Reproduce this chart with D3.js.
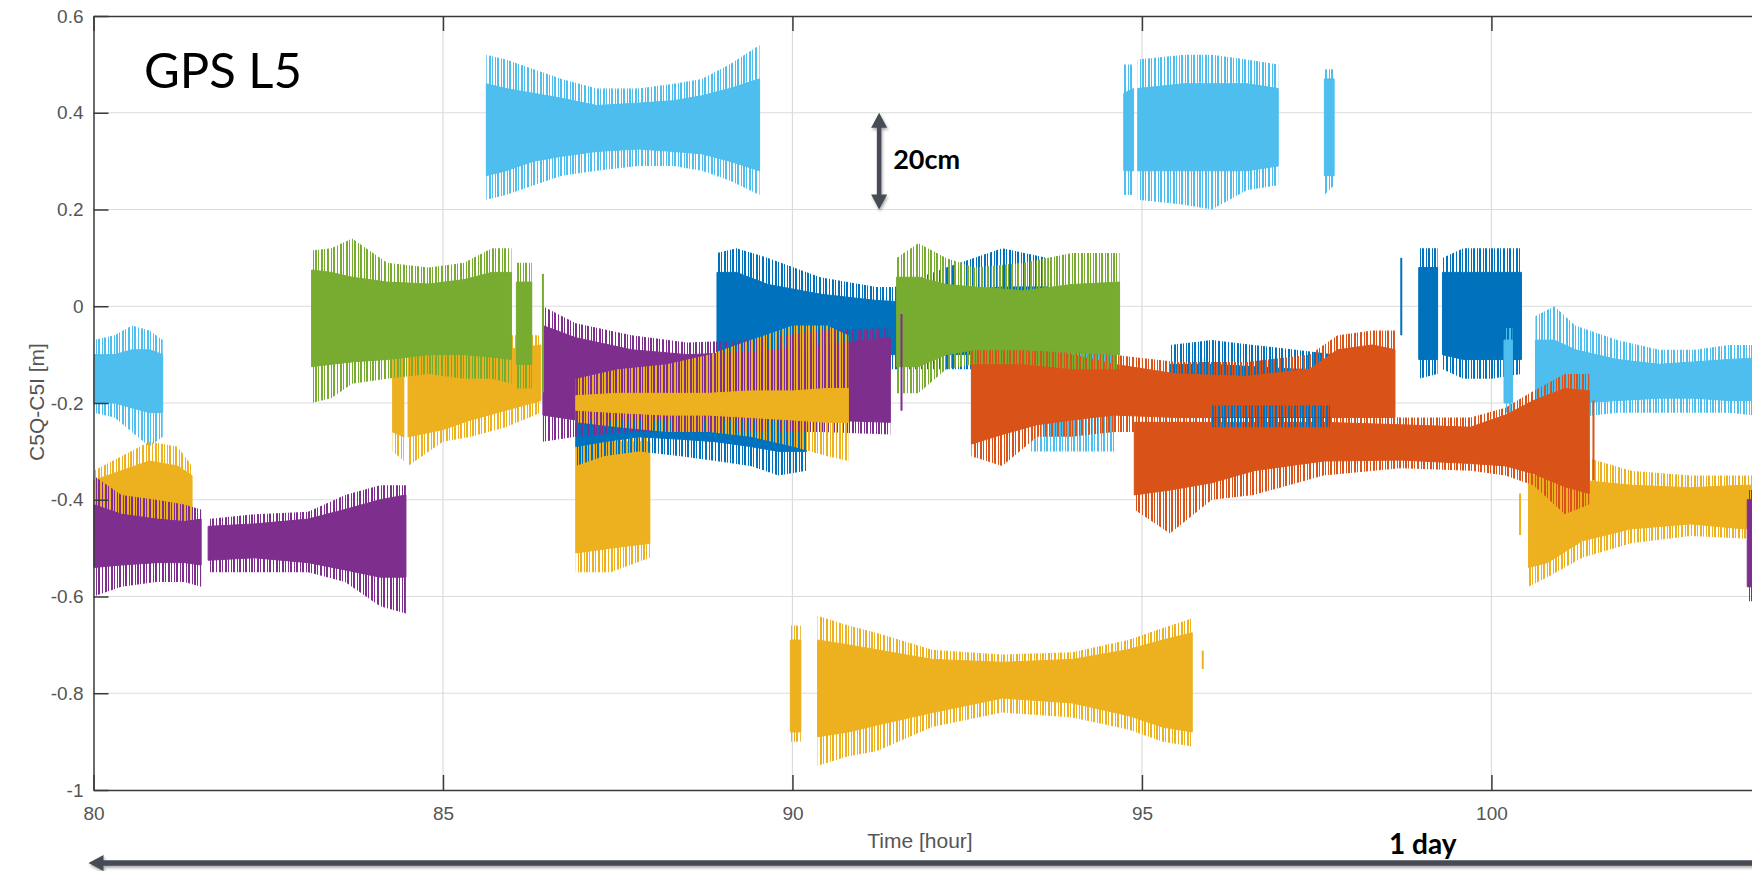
<!DOCTYPE html>
<html><head><meta charset="utf-8">
<script src="https://cdn.jsdelivr.net/npm/d3@7"></script>
<style>html,body{margin:0;padding:0;background:#fff;overflow:hidden}</style>
</head><body><svg id="c" width="1752" height="871"></svg>
<script>
// ---- axis ticks ----
const xTicks = [80, 85, 90, 95, 100];
const yTicks = [-1, -0.8, -0.6, -0.4, -0.2, 0, 0.2, 0.4, 0.6];
const yTickLabels = ["-1", "-0.8", "-0.6", "-0.4", "-0.2", "0", "0.2", "0.4", "0.6"];

// ---- series segments: [hour, spikeLow, coreLow, coreHigh, spikeHigh] (m) ----
// light blue
const lb1 = [[80.00,-0.22,-0.20,-0.10,-0.07],[80.30,-0.23,-0.20,-0.10,-0.06],[80.55,-0.26,-0.21,-0.09,-0.04],[80.80,-0.29,-0.22,-0.09,-0.05],[80.99,-0.27,-0.22,-0.10,-0.07]];
const lb2 = [[85.62,0.22,0.27,0.46,0.52],[85.9,0.23,0.28,0.45,0.51],[86.3,0.25,0.30,0.44,0.49],[86.7,0.27,0.31,0.43,0.47],[87.2,0.28,0.32,0.415,0.45],[87.8,0.29,0.325,0.42,0.45],[88.3,0.29,0.32,0.425,0.46],[88.7,0.28,0.315,0.435,0.47],[89.1,0.26,0.30,0.45,0.50],[89.53,0.23,0.28,0.47,0.54]];
const lb3a = [[94.74,0.23,0.28,0.44,0.50],[94.88,0.23,0.28,0.45,0.50]];
const lb3b = [[94.94,0.22,0.28,0.45,0.51],[95.6,0.21,0.28,0.46,0.52],[96.0,0.20,0.28,0.46,0.52],[96.5,0.24,0.28,0.46,0.51],[96.95,0.25,0.29,0.45,0.50]];
const lb4 = [[97.61,0.23,0.27,0.47,0.49],[97.75,0.25,0.27,0.47,0.49]];
const lbx = [[93.4,-0.30,-0.22,-0.10,-0.08],[94.6,-0.30,-0.22,-0.10,-0.08]];
const lb5a = [[100.18,-0.22,-0.20,-0.07,-0.045],[100.30,-0.22,-0.20,-0.07,-0.045]];
const lb5 = [[100.63,-0.25,-0.21,-0.07,-0.02],[100.9,-0.24,-0.20,-0.07,0.0],[101.2,-0.23,-0.20,-0.09,-0.04],[101.8,-0.22,-0.195,-0.11,-0.07],[102.4,-0.22,-0.19,-0.12,-0.09],[102.9,-0.22,-0.19,-0.115,-0.09],[103.4,-0.22,-0.195,-0.11,-0.08],[104.0,-0.23,-0.195,-0.105,-0.08]];
// yellow
const ye1 = [[80.0,-0.50,-0.47,-0.36,-0.34],[80.4,-0.50,-0.47,-0.34,-0.31],[80.8,-0.52,-0.47,-0.32,-0.28],[81.2,-0.52,-0.47,-0.33,-0.29],[81.41,-0.50,-0.47,-0.35,-0.33]];
const ye2a = [[84.28,-0.30,-0.26,-0.10,-0.08],[84.44,-0.32,-0.27,-0.10,-0.08]];
const ye2b = [[84.50,-0.33,-0.27,-0.10,-0.07],[85.0,-0.28,-0.255,-0.10,-0.07],[85.4,-0.27,-0.235,-0.10,-0.07],[85.9,-0.25,-0.215,-0.09,-0.06],[86.4,-0.22,-0.195,-0.08,-0.06]];
const ye3 = [[86.9,-0.55,-0.51,-0.28,-0.26],[87.4,-0.55,-0.50,-0.28,-0.26],[87.96,-0.52,-0.49,-0.28,-0.26]];
const ye4 = [[86.9,-0.24,-0.215,-0.185,-0.15],[87.5,-0.25,-0.22,-0.18,-0.13],[88.2,-0.26,-0.225,-0.18,-0.12],[88.8,-0.26,-0.225,-0.18,-0.10],[89.4,-0.27,-0.23,-0.175,-0.07],[90.0,-0.29,-0.235,-0.175,-0.04],[90.5,-0.31,-0.24,-0.17,-0.04],[90.8,-0.32,-0.24,-0.17,-0.06]];
const ye5a = [[89.97,-0.90,-0.88,-0.69,-0.66],[90.12,-0.90,-0.88,-0.69,-0.66]];
const ye5b = [[90.36,-0.95,-0.89,-0.69,-0.64],[90.8,-0.93,-0.88,-0.70,-0.66],[91.2,-0.92,-0.866,-0.71,-0.675],[92.0,-0.87,-0.84,-0.73,-0.71],[93.0,-0.84,-0.81,-0.736,-0.72],[94.0,-0.85,-0.82,-0.73,-0.715],[94.8,-0.875,-0.846,-0.71,-0.69],[95.3,-0.90,-0.87,-0.69,-0.665],[95.72,-0.91,-0.88,-0.675,-0.645]];
const ye6 = [[100.53,-0.58,-0.54,-0.35,-0.33],[100.8,-0.56,-0.53,-0.35,-0.32],[101.3,-0.52,-0.485,-0.36,-0.31],[102.0,-0.49,-0.46,-0.37,-0.34],[102.85,-0.475,-0.45,-0.375,-0.35],[103.6,-0.48,-0.46,-0.37,-0.35],[104.0,-0.48,-0.46,-0.37,-0.35]];
// blue
const blA = [[86.9,-0.33,-0.29,-0.19,-0.17],[87.3,-0.31,-0.28,-0.19,-0.17],[87.8,-0.30,-0.27,-0.19,-0.17],[88.4,-0.31,-0.275,-0.19,-0.17],[88.9,-0.32,-0.28,-0.19,-0.16],[89.4,-0.33,-0.29,-0.19,-0.16],[89.8,-0.35,-0.30,-0.19,-0.16],[90.2,-0.34,-0.30,-0.19,-0.16]];
const blB = [[88.92,-0.13,-0.10,0.07,0.11],[89.2,-0.13,-0.10,0.07,0.12],[89.65,-0.13,-0.10,0.045,0.10],[90.4,-0.13,-0.10,0.025,0.06],[91.2,-0.13,-0.10,0.012,0.04],[91.46,-0.13,-0.10,0.01,0.04],[92.2,-0.13,-0.10,0.03,0.08],[93.0,-0.13,-0.10,0.04,0.12],[93.65,-0.13,-0.10,0.04,0.10]];
const blC = [[95.4,-0.20,-0.17,-0.12,-0.08],[96.0,-0.20,-0.17,-0.12,-0.07],[96.6,-0.20,-0.17,-0.125,-0.08],[97.2,-0.20,-0.17,-0.13,-0.09],[97.8,-0.20,-0.17,-0.13,-0.10],[98.3,-0.20,-0.17,-0.14,-0.10]];
const blD1 = [[98.96,-0.15,-0.11,0.08,0.12],[99.23,-0.14,-0.11,0.08,0.12]];
const blD2 = [[99.30,-0.13,-0.10,0.07,0.10],[99.6,-0.15,-0.11,0.07,0.12],[100.0,-0.15,-0.11,0.07,0.12],[100.43,-0.14,-0.11,0.07,0.12]];
const blE = [[96.0,-0.25,-0.23,-0.23,-0.205],[97.7,-0.25,-0.23,-0.23,-0.205]];
// purple
const pu1a = [[80.0,-0.60,-0.54,-0.41,-0.35],[80.4,-0.58,-0.535,-0.43,-0.39],[80.9,-0.57,-0.53,-0.44,-0.40],[81.3,-0.57,-0.53,-0.445,-0.41],[81.54,-0.58,-0.535,-0.44,-0.42]];
const pu1b = [[81.64,-0.55,-0.525,-0.455,-0.44],[82.3,-0.55,-0.52,-0.45,-0.43],[83.07,-0.55,-0.53,-0.44,-0.425],[83.6,-0.57,-0.545,-0.42,-0.39],[84.1,-0.62,-0.56,-0.40,-0.37],[84.47,-0.635,-0.56,-0.39,-0.37]];
const pu2 = [[86.43,-0.28,-0.225,-0.04,0.0],[86.9,-0.27,-0.235,-0.065,-0.035],[87.7,-0.26,-0.235,-0.09,-0.06],[88.5,-0.26,-0.235,-0.10,-0.075],[89.4,-0.26,-0.235,-0.095,-0.07],[90.4,-0.26,-0.235,-0.08,-0.05],[91.4,-0.265,-0.24,-0.065,-0.045]];
const pu3 = [[103.66,-0.61,-0.58,-0.40,-0.38],[104.0,-0.61,-0.58,-0.40,-0.38]];
// orange
const orA = [[92.56,-0.31,-0.285,-0.08,-0.07],[93.0,-0.33,-0.265,-0.085,-0.07],[93.5,-0.27,-0.245,-0.09,-0.075],[94.0,-0.27,-0.235,-0.10,-0.085],[94.6,-0.26,-0.225,-0.12,-0.10],[95.5,-0.26,-0.23,-0.14,-0.115],[96.5,-0.26,-0.23,-0.145,-0.115],[97.4,-0.26,-0.23,-0.13,-0.10],[97.8,-0.26,-0.23,-0.09,-0.06],[98.3,-0.26,-0.23,-0.08,-0.05],[98.62,-0.26,-0.23,-0.09,-0.05]];
const orB = [[94.89,-0.42,-0.39,-0.24,-0.22],[95.4,-0.47,-0.38,-0.24,-0.22],[96.0,-0.40,-0.365,-0.24,-0.22],[96.6,-0.39,-0.34,-0.24,-0.22],[97.6,-0.35,-0.32,-0.24,-0.22],[98.7,-0.335,-0.318,-0.245,-0.23],[99.7,-0.34,-0.325,-0.25,-0.23],[100.2,-0.35,-0.33,-0.225,-0.21],[100.6,-0.37,-0.346,-0.195,-0.175],[101.05,-0.43,-0.373,-0.17,-0.14],[101.4,-0.41,-0.387,-0.175,-0.14]];
// green
const gr1a = [[83.12,-0.20,-0.125,0.075,0.115],[83.4,-0.19,-0.12,0.07,0.12],[83.7,-0.16,-0.115,0.06,0.14],[84.2,-0.15,-0.11,0.05,0.09],[84.8,-0.14,-0.10,0.046,0.08],[85.3,-0.15,-0.10,0.055,0.09],[85.7,-0.15,-0.105,0.07,0.12],[85.98,-0.16,-0.11,0.07,0.12]];
const gr1b = [[86.05,-0.17,-0.12,0.05,0.09],[86.27,-0.17,-0.12,0.05,0.09]];
const gr2 = [[91.49,-0.18,-0.125,0.06,0.10],[91.8,-0.18,-0.125,0.06,0.13],[92.2,-0.13,-0.10,0.045,0.10],[92.6,-0.12,-0.09,0.04,0.08],[93.3,-0.12,-0.09,0.032,0.09],[94.0,-0.13,-0.095,0.045,0.11],[94.68,-0.13,-0.10,0.05,0.11]];
// isolated single spikes: [hour, low, high]
const spikesGreen = [[86.43,-0.178,0.067]];
const spikesPurple = [[91.56,-0.216,-0.016]];
const spikesOrange = [[101.46,-0.36,-0.195]];
const spikesYellow = [[95.87,-0.75,-0.712],[100.41,-0.473,-0.387]];
const spikesBlue = [[98.71,-0.06,0.10]];

// ---- drawing ----
const COLORS = {lb:'#4DBEEE', bl:'#0072BD', ye:'#EDB120', pu:'#7E2F8E', gr:'#77AC30', or:'#D95319'};
const layers = [
  ['lb',[lb1,lb2,lb3a,lb3b,lb4,lbx,lb5]],
  ['ye',[ye1,ye3,ye5a,ye5b,ye6]],
  ['bl',[blA,blB,blC,blD1,blD2]],
  ['lb',[lb5a]],
  ['pu',[pu1a,pu1b,pu2,pu3]],
  ['ye',[ye2a,ye2b,ye4]],
  ['or',[orA,orB]],
  ['bl',[blE]],
  ['gr',[gr1a,gr1b,gr2]]
];
const spikeLayers = [['gr',spikesGreen],['pu',spikesPurple],['or',spikesOrange],['ye',spikesYellow],['bl',spikesBlue]];

const W = 1752, H = 871;
const L = 93.5, T = 16, B = 790, R = 1771;
const x = d3.scaleLinear().domain([80,104]).range([L,R]);
const y = d3.scaleLinear().domain([-1,0.6]).range([B,T]);
const svg = d3.select('#c');
svg.append('rect').attr('width',W).attr('height',H).attr('fill','#fff');

const defs = svg.append('defs');
defs.append('clipPath').attr('id','plot').append('rect').attr('x',L).attr('y',T).attr('width',R-L).attr('height',B-T);
const f = defs.append('filter').attr('id','sh').attr('x','-20%').attr('y','-20%').attr('width','140%').attr('height','160%');
f.append('feDropShadow').attr('dx',1).attr('dy',2).attr('stdDeviation',1.5).attr('flood-color','#000').attr('flood-opacity',0.35);
// spike-texture patterns (vertical hairlines) for the noisy fringe of each series
const stripeX = [0,2,3,5,8,9,11,14,15,18,20,21,24,27,28,30,33,34,36,39,41,42,45,47,48,51,53,54];
Object.entries(COLORS).forEach(([k,c],i)=>{
  const p = defs.append('pattern').attr('id','st-'+k).attr('patternUnits','userSpaceOnUse')
    .attr('width',57).attr('height',40).attr('patternTransform',`translate(${i*7},0)`);
  p.selectAll('rect').data(stripeX).join('rect').attr('x',d=>d).attr('y',0).attr('width',1).attr('height',40)
    .attr('fill',c).attr('shape-rendering','crispEdges');
});

// grid
const grid = svg.append('g');
grid.selectAll('line.h').data(yTicks.filter(v=>v>-1&&v<0.6)).join('line')
  .attr('x1',L).attr('x2',R).attr('y1',d=>y(d)).attr('y2',d=>y(d))
  .attr('stroke','#dcdcdc').attr('stroke-width',1.2);
grid.selectAll('line.v').data(xTicks.filter(v=>v>80)).join('line')
  .attr('y1',T).attr('y2',B).attr('x1',d=>x(d)).attr('x2',d=>x(d))
  .attr('stroke','#dcdcdc').attr('stroke-width',1.2);

// data
const gData = svg.append('g').attr('clip-path','url(#plot)');
const outer = d3.area().x(d=>x(d[0])).y0(d=>y(d[1])).y1(d=>y(d[4]));
const core = d3.area().x(d=>x(d[0])).y0(d=>y(d[2])).y1(d=>y(d[3]));
layers.forEach(([k,segs])=>{
  const g = gData.append('g');
  segs.forEach(s=>{
    g.append('path').attr('d',outer(s)).attr('fill',`url(#st-${k})`);
    g.append('path').attr('d',core(s)).attr('fill',COLORS[k]).attr('stroke',COLORS[k]).attr('stroke-width',1);
  });
});
spikeLayers.forEach(([k,arr])=>{
  gData.append('g').selectAll('line').data(arr).join('line')
    .attr('x1',d=>x(d[0])).attr('x2',d=>x(d[0])).attr('y1',d=>y(d[1])).attr('y2',d=>y(d[2]))
    .attr('stroke',COLORS[k]).attr('stroke-width',2);
});

// axes
const axisCol = '#3a3a3a', labCol = '#555';
const ax = svg.append('g').attr('font-family','"Liberation Sans", Arial, sans-serif');
const yl = ax.append('g').attr('transform',`translate(${L},0)`)
  .call(d3.axisLeft(y).tickValues(yTicks).tickFormat((d,i)=>yTickLabels[i]).tickSizeInner(-15).tickSizeOuter(0).tickPadding(10));
const xb = ax.append('g').attr('transform',`translate(0,${B})`)
  .call(d3.axisBottom(x).tickValues(xTicks).tickFormat(d3.format('d')).tickSizeInner(-15).tickSizeOuter(0).tickPadding(17));
const xt = ax.append('g').attr('transform',`translate(0,${T})`)
  .call(d3.axisTop(x).tickValues(xTicks).tickFormat('').tickSizeInner(-15).tickSizeOuter(0));
[yl,xb,xt].forEach(g=>{
  g.select('.domain').attr('stroke',axisCol).attr('stroke-width',1.5);
  g.selectAll('.tick line').attr('stroke',axisCol).attr('stroke-width',1.5);
  g.selectAll('.tick text').attr('fill',labCol).attr('font-size',19);
});
ax.append('text').attr('x',920).attr('y',848).attr('text-anchor','middle')
  .attr('fill',labCol).attr('font-size',21).text('Time [hour]');
ax.append('text').attr('transform','translate(44,402) rotate(-90)').attr('text-anchor','middle')
  .attr('fill',labCol).attr('font-size',21).text('C5Q-C5I [m]');

// annotations
const ann = svg.append('g');
ann.append('text').attr('x',144).attr('y',88).attr('font-family','Lato, "Open Sans", sans-serif')
  .attr('font-size',49).attr('fill','#000').text('GPS L5');
const arrCol = '#474B55';
// vertical 20cm arrow
const ax0 = x(91.24), ay1 = y(0.4), ay2 = y(0.2);
const va = ann.append('g').attr('filter','url(#sh)');
va.append('line').attr('x1',ax0).attr('x2',ax0).attr('y1',ay1+12).attr('y2',ay2-12).attr('stroke',arrCol).attr('stroke-width',4.5);
va.append('path').attr('d',`M${ax0},${ay1} L${ax0-8},${ay1+15} L${ax0+8},${ay1+15} Z`).attr('fill',arrCol);
va.append('path').attr('d',`M${ax0},${ay2} L${ax0-8},${ay2-15} L${ax0+8},${ay2-15} Z`).attr('fill',arrCol);
ann.append('text').attr('x',ax0+14).attr('y',169).attr('font-family','Lato, "Open Sans", sans-serif')
  .attr('font-weight','bold').attr('font-size',27).attr('fill','#000').text('20cm');
// horizontal 1 day arrow
const hy = 863, hx1 = x(80)-5, hx2 = x(104);
const ha = ann.append('g').attr('filter','url(#sh)');
ha.append('line').attr('x1',hx1+12).attr('x2',hx2-12).attr('y1',hy).attr('y2',hy).attr('stroke',arrCol).attr('stroke-width',5.5);
ha.append('path').attr('d',`M${hx1},${hy} L${hx1+15},${hy-8} L${hx1+15},${hy+8} Z`).attr('fill',arrCol);
ha.append('path').attr('d',`M${hx2},${hy} L${hx2-15},${hy-8} L${hx2-15},${hy+8} Z`).attr('fill',arrCol);
ann.append('text').attr('x',1389).attr('y',854).attr('font-family','Lato, "Open Sans", sans-serif')
  .attr('font-weight','bold').attr('font-size',28).attr('fill','#000').text('1 day');
</script></body></html>
